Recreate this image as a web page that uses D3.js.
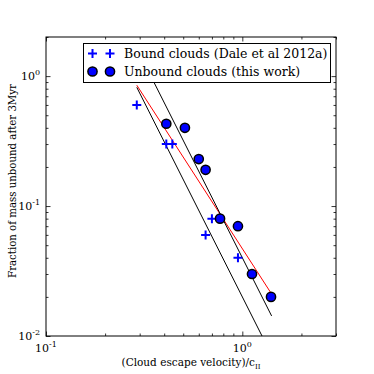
<!DOCTYPE html>
<html>
<head>
<meta charset="utf-8">
<script src="https://cdn.jsdelivr.net/npm/d3@7"></script>
<style>
  body { margin: 0; background: #fff; }
  text { font-family: "DejaVu Serif", serif; fill: #000; }
</style>
</head>
<body>
<div id="chart"></div>
<script>
let width = 374, height = 374;
let margin = {left: 46, right: 38, top: 37, bottom: 38};

// Dale et al 2012a, bound clouds
let boundX = [0.29, 0.41, 0.44, 0.70, 0.65, 0.95];
let boundY = [0.60, 0.30, 0.30, 0.08, 0.06, 0.04];
// this work, unbound clouds
let unboundX = [0.41, 0.51, 0.60, 0.65, 0.77, 0.95, 1.12, 1.40];
let unboundY = [0.43, 0.40, 0.23, 0.19, 0.08, 0.07, 0.03, 0.02];

// power laws y = a * x^k, drawn between x0 and x1
let fitA = [0.047, 0.02, 0.04];
let fitK = [-2.34, -3, -3];
let fitX0 = [0.29, 0.29, 0.29];
let fitX1 = [1.40, 1.40, 1.41];
let fitColor = ["red", "black", "black"];

let xMajor = [0.1, 1];
let yMajor = [0.01, 0.1, 1];
let xTickLabels = ["-1", "0"];
let yTickLabels = ["-2", "-1", "0"];
let legendLabels = ["Bound clouds (Dale et al 2012a)", "Unbound clouds (this work)"];

let x = d3.scaleLog().domain([0.1, 3]).range([margin.left, width - margin.right]);
let y = d3.scaleLog().domain([0.01, 2]).range([height - margin.bottom, margin.top]);

let svg = d3.select("#chart").append("svg")
    .attr("width", width)
    .attr("height", height);

svg.append("defs").append("clipPath").attr("id", "clip")
    .append("rect")
    .attr("x", margin.left).attr("y", margin.top)
    .attr("width", width - margin.left - margin.right)
    .attr("height", height - margin.top - margin.bottom);

// minor ticks
function minors(lo, hi) {
    let out = [];
    for (let d = lo; d < hi; d *= 10)
        for (let m = 2; m <= 9; m++) if (d * m <= hi) out.push(d * m);
    return out;
}
let xMinor = minors(0.1, 3);
let yMinor = minors(0.01, 2);

function drawAxis(axisFn, scale, major, minor, transform) {
    let g = svg.append("g").attr("transform", transform);
    g.call(axisFn(scale).tickValues(major).tickSize(-4.5).tickFormat(""));
    let g2 = svg.append("g").attr("transform", transform);
    g2.call(axisFn(scale).tickValues(minor).tickSize(-2.5).tickFormat(""));
    [g, g2].forEach(function(s) {
        s.select(".domain").remove();
        s.selectAll("line").attr("stroke", "#000").attr("stroke-width", 0.8);
    });
}
let innerBottom = height - margin.bottom, innerRight = width - margin.right;
drawAxis(d3.axisBottom, x, xMajor, xMinor, `translate(0,${innerBottom})`);
drawAxis(d3.axisTop, x, xMajor, xMinor, `translate(0,${margin.top})`);
drawAxis(d3.axisLeft, y, yMajor, yMinor, `translate(${margin.left},0)`);
drawAxis(d3.axisRight, y, yMajor, yMinor, `translate(${innerRight},0)`);

// tick labels with superscripts
xMajor.forEach(function(v, i) {
    let t = svg.append("text")
        .attr("x", x(v)).attr("y", innerBottom + 16)
        .attr("text-anchor", "middle")
        .style("font-size", "11px")
        .text("10");
    t.append("tspan").attr("dy", -5).style("font-size", "8px").text(xTickLabels[i]);
});
yMajor.forEach(function(v, i) {
    let t = svg.append("text")
        .attr("x", margin.left - 6).attr("y", y(v) + 4)
        .attr("text-anchor", "end")
        .style("font-size", "11px")
        .text("10");
    t.append("tspan").attr("dy", -5).style("font-size", "8px").text(yTickLabels[i]);
});

// fit lines
let plot = svg.append("g").attr("clip-path", "url(#clip)");
let line = d3.line().x(d => x(d[0])).y(d => y(d[1]));
fitA.forEach(function(a, i) {
    let pts = [fitX0[i], fitX1[i]].map(v => [v, a * Math.pow(v, fitK[i])]);
    plot.append("path")
        .attr("d", line(pts))
        .attr("fill", "none")
        .attr("stroke", fitColor[i])
        .attr("stroke-width", 1);
});

function cross(g, cx, cy) {
    g.append("path")
        .attr("d", `M${cx - 4.5},${cy}H${cx + 4.5}M${cx},${cy - 4.5}V${cy + 4.5}`)
        .attr("stroke", "blue")
        .attr("stroke-width", 2);
}
function dot(g, cx, cy) {
    g.append("circle")
        .attr("cx", cx).attr("cy", cy).attr("r", 4.6)
        .attr("fill", "blue")
        .attr("stroke", "black")
        .attr("stroke-width", 1.5);
}

boundX.forEach((v, i) => cross(plot, x(v), y(boundY[i])));
unboundX.forEach((v, i) => dot(plot, x(v), y(unboundY[i])));

// frame
svg.append("rect")
    .attr("x", margin.left).attr("y", margin.top)
    .attr("width", innerRight - margin.left)
    .attr("height", innerBottom - margin.top)
    .attr("fill", "none")
    .attr("stroke", "#000")
    .attr("stroke-width", 1);

// legend
let leg = svg.append("g");
leg.append("rect")
    .attr("x", 83.5).attr("y", 43.5).attr("width", 247).attr("height", 39)
    .attr("fill", "#fff").attr("stroke", "#000").attr("stroke-width", 1);
[53.5, 71.5].forEach(function(ly, i) {
    [92.5, 110].forEach(function(lx) {
        if (i === 0) cross(leg, lx, ly); else dot(leg, lx, ly);
    });
    leg.append("text")
        .attr("x", 124).attr("y", ly + 4.5)
        .style("font-size", "12.5px")
        .text(legendLabels[i]);
});

// axis labels
let xl = svg.append("text")
    .attr("x", (margin.left + innerRight) / 2).attr("y", 366)
    .attr("text-anchor", "middle")
    .style("font-size", "10.5px")
    .text("(Cloud escape velocity)/c");
xl.append("tspan").attr("dy", 2.5).style("font-size", "7px").text("II");

svg.append("text")
    .attr("transform", "translate(16,181) rotate(-90)")
    .attr("text-anchor", "middle")
    .style("font-size", "10.2px")
    .text("Fraction of mass unbound after 3Myr");
</script>
</body>
</html>
